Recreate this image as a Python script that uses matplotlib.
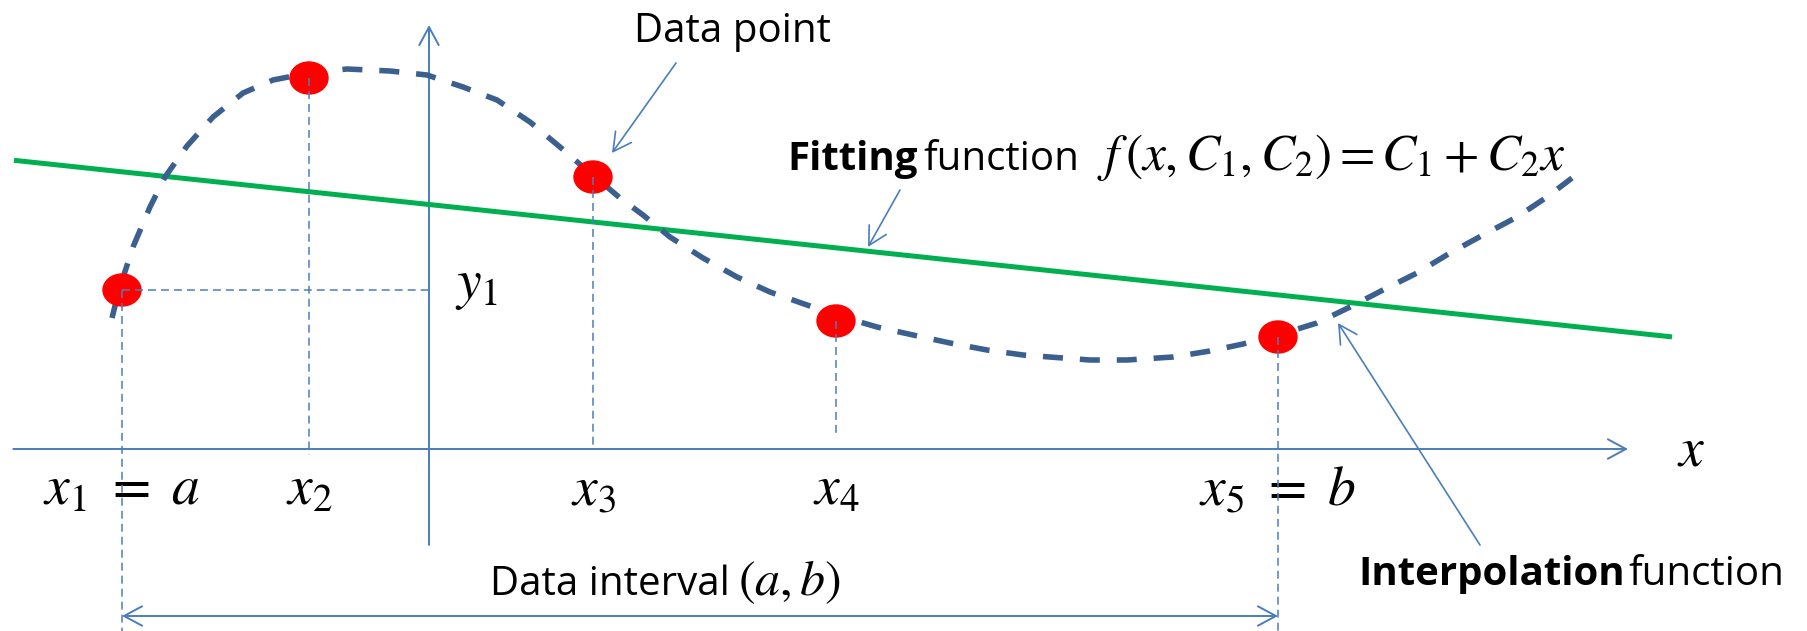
import numpy as np
import matplotlib.pyplot as plt
from matplotlib.patches import Ellipse

plt.rcParams['font.family'] = ['Open Sans', 'DejaVu Sans']
plt.rcParams['mathtext.fontset'] = 'stix'

# data nodes (x_i, y_i), axes cross at the origin
node_x = [-3.07, -1.20, 1.64, 4.07, 8.49]
node_y = [1.59, 3.71, 2.72, 1.28, 1.12]
node_labels = [r'$x_1\ =\ a$', r'$x_2$', r'$x_3$', r'$x_4$', r'$x_5\ =\ b$']
# where each vertical guide from a node stops
guide_bottom = [-1.82, -0.06, 0.0, 0.11, -1.82]

# interpolation curve traced through the nodes
curve_x = [-3.17, -3.10, -2.96, -2.79, -2.64, -2.42, -2.16, -1.86, -1.56, -1.20,
           -0.82, -0.39, -0.02, 0.34, 0.68, 1.01, 1.31, 1.54, 1.64, 1.91,
           2.14, 2.41, 2.74, 3.08, 3.41, 3.78, 4.07, 4.48, 4.84, 5.21,
           5.58, 5.94, 6.34, 6.61, 6.98, 7.44, 7.81, 8.14, 8.49, 8.88,
           9.21, 9.54, 9.88, 10.21, 10.54, 10.88, 11.18, 11.43]
curve_y = [1.31, 1.59, 2.02, 2.42, 2.72, 3.03, 3.32, 3.56, 3.69, 3.76,
           3.80, 3.78, 3.74, 3.62, 3.49, 3.27, 3.02, 2.82, 2.74, 2.51,
           2.34, 2.12, 1.91, 1.72, 1.57, 1.44, 1.34, 1.22, 1.14, 1.06,
           0.99, 0.94, 0.91, 0.89, 0.89, 0.92, 0.98, 1.05, 1.14, 1.26,
           1.42, 1.59, 1.76, 1.96, 2.14, 2.32, 2.52, 2.71]

# straight fitting line C1 + C2 x
fit_x = [-4.15, 12.43]
fit_y = [2.887, 1.121]

axis_blue = '#4A7EBB'
curve_blue = '#3B6090'
fit_green = '#00B050'

fig = plt.figure(figsize=(18.08, 6.31), dpi=100)
ax = fig.add_axes([0, 0, 1, 1])
ax.set_xlim(-4.29, 13.79)
ax.set_ylim(-1.82, 4.49)
ax.axis('off')

def arrow(start, tip, style='->', lw=1.3):
    ax.annotate('', xy=tip, xytext=start,
                arrowprops=dict(arrowstyle=style + ',head_length=0.65,head_width=0.35',
                                mutation_scale=20, lw=lw, color=axis_blue,
                                shrinkA=0, shrinkB=0))

# coordinate axes
arrow((-4.157, 0), (11.99, 0), lw=1.4)
arrow((0, -0.96), (0, 4.24), lw=1.4)

# fitting line and interpolation curve
ax.plot(fit_x, fit_y, color=fit_green, lw=3.6, solid_capstyle='butt', zorder=3)
ax.plot(curve_x, curve_y, color=curve_blue, lw=4.0, dashes=(3.6, 3.05),
        dash_joinstyle='round', zorder=3)

# data points with guides
for x, y, lab, yb in zip(node_x, node_y, node_labels, guide_bottom):
    ax.add_patch(Ellipse((x, y), 0.38, 0.32, color='#FF0000', zorder=4))
    ax.plot([x, x], [y, yb], color=axis_blue, lw=1.1, dashes=(5.2, 3.3), zorder=5)
    ax.text(x, -0.56, lab, fontsize=40, ha='center', va='baseline')
ax.plot([node_x[0], 0], [node_y[0], node_y[0]], color=axis_blue, lw=1.1,
        dashes=(5.2, 3.3), zorder=5)
ax.text(0.26, 1.51, r'$y_1$', fontsize=40, va='baseline')
ax.text(12.48, -0.16, r'$x$', fontsize=40, va='baseline')

# data interval
arrow((node_x[0], -1.67), (node_x[4], -1.67), style='<->', lw=1.4)
ax.text(0.61, -1.46, 'Data interval', fontsize=29, va='baseline')
ax.text(3.09, -1.46, r'$(a,b)$', fontsize=36, va='baseline')

# callouts
ax.text(2.05, 4.07, 'Data point', fontsize=29, va='baseline')
arrow((2.47, 3.86), (1.83, 2.96), lw=1.2)

ax.text(3.58, 2.79, 'Fitting', fontsize=29, fontweight='bold', va='baseline')
ax.text(4.94, 2.79, 'function', fontsize=29, va='baseline')
ax.text(6.68, 2.79, r'$f\,(x,C_1,C_2)=C_1+C_2x$', fontsize=37, va='baseline')
arrow((4.71, 2.59), (4.39, 2.02), lw=1.2)

ax.text(9.29, -1.36, 'Interpolation', fontsize=29, fontweight='bold', va='baseline')
ax.text(11.99, -1.36, 'function', fontsize=29, va='baseline')
arrow((10.51, -0.96), (9.09, 1.26), lw=1.2)

fig.savefig('out.png', dpi=100, facecolor='white')
